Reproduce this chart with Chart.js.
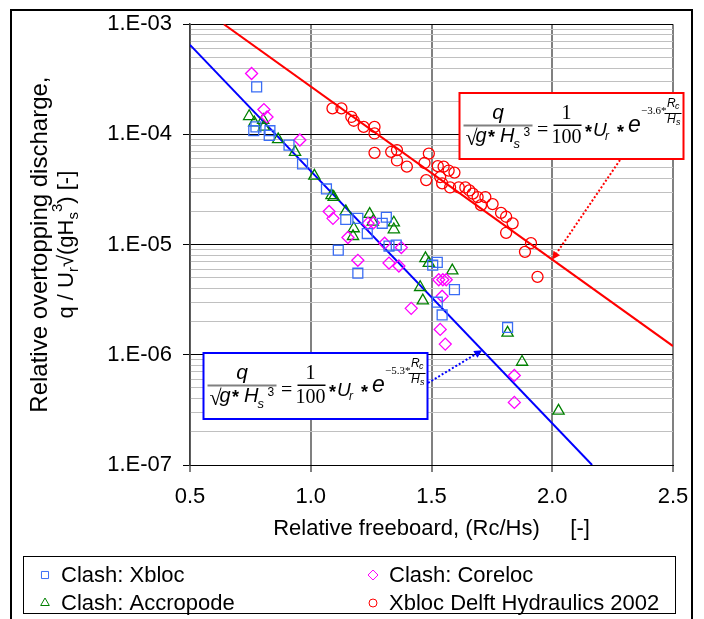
<!DOCTYPE html>
<html lang="en">
<head>
<meta charset="UTF-8" />
<title>Relative overtopping discharge</title>
<script src="https://cdn.jsdelivr.net/npm/chart.js@4.4.1/dist/chart.umd.min.js"></script>
<style>
  body { margin: 0; background: #fff; }
  #wrap { width: 704px; height: 619px; }
</style>
</head>
<body>
<div id="wrap"><canvas id="chart" width="704" height="619"></canvas></div>
<script>
// axis ticks
const xTicks = [0.5, 1.0, 1.5, 2.0, 2.5];
const xTickLabels = ['0.5', '1.0', '1.5', '2.0', '2.5'];
const yTicks = [1e-7, 1e-6, 1e-5, 1e-4, 1e-3];
const yTickLabels = ['1.E-07', '1.E-06', '1.E-05', '1.E-04', '1.E-03'];

// Clash: Xbloc
const xblocX = [0.776, 0.773, 0.764, 0.831, 0.828, 0.910, 0.966, 1.065, 1.145, 1.195, 1.313, 1.296, 1.234, 1.114, 1.195, 1.324, 1.354, 1.524, 1.505, 1.595, 1.524, 1.544, 1.815];
const xblocY = [2.70e-4, 1.17e-4, 1.08e-4, 1.08e-4, 9.8e-5, 8.0e-5, 5.4e-5, 3.2e-5, 1.69e-5, 1.73e-5, 1.77e-5, 1.56e-5, 1.26e-5, 8.9e-6, 5.5e-6, 9.7e-6, 9.9e-6, 6.9e-6, 6.5e-6, 3.9e-6, 3.0e-6, 2.3e-6, 1.77e-6];

// Clash: Coreloc
const corelocX = [0.755, 0.806, 0.819, 0.955, 1.076, 1.092, 1.237, 1.260, 1.154, 1.195, 1.306, 1.375, 1.324, 1.365, 1.416, 1.530, 1.547, 1.561, 1.544, 1.536, 1.557, 1.843, 1.843];
const corelocY = [3.57e-4, 1.68e-4, 1.44e-4, 8.9e-5, 2.0e-5, 1.73e-5, 1.56e-5, 1.58e-5, 1.16e-5, 7.2e-6, 1.03e-5, 9.4e-6, 6.8e-6, 6.4e-6, 2.64e-6, 4.8e-6, 4.8e-6, 4.8e-6, 3.4e-6, 1.70e-6, 1.25e-6, 6.5e-7, 3.7e-7];

// Clash: Accropode
const accroX = [0.745, 0.766, 0.803, 0.806, 0.865, 0.935, 1.015, 1.086, 1.095, 1.145, 1.244, 1.257, 1.344, 1.344, 1.178, 1.175, 1.475, 1.489, 1.586, 1.453, 1.464, 1.815, 1.875, 2.026];
const accroY = [1.46e-4, 1.28e-4, 1.35e-4, 1.17e-4, 9.0e-5, 6.9e-5, 4.2e-5, 2.8e-5, 2.7e-5, 2.0e-5, 1.89e-5, 1.61e-5, 1.58e-5, 1.37e-5, 1.40e-5, 1.19e-5, 7.5e-6, 6.8e-6, 5.8e-6, 4.1e-6, 3.1e-6, 1.58e-6, 8.6e-7, 3.1e-7];

// Xbloc Delft Hydraulics 2002
const delftX = [1.090, 1.127, 1.168, 1.178, 1.219, 1.264, 1.264, 1.264, 1.333, 1.357, 1.357, 1.398, 1.489, 1.471, 1.478, 1.526, 1.550, 1.571, 1.595, 1.536, 1.544, 1.577, 1.613, 1.640, 1.657, 1.671, 1.691, 1.723, 1.753, 1.705, 1.788, 1.809, 1.836, 1.809, 1.912, 1.887, 1.939];
const delftY = [1.72e-4, 1.72e-4, 1.44e-4, 1.33e-4, 1.17e-4, 1.17e-4, 1.02e-4, 6.8e-5, 6.95e-5, 7.2e-5, 5.8e-5, 5.1e-5, 6.7e-5, 5.5e-5, 3.85e-5, 5.15e-5, 5.1e-5, 4.7e-5, 4.5e-5, 4.1e-5, 3.6e-5, 3.3e-5, 3.3e-5, 3.3e-5, 3.1e-5, 2.9e-5, 2.7e-5, 2.7e-5, 2.33e-5, 2.28e-5, 1.94e-5, 1.79e-5, 1.56e-5, 1.28e-5, 1.03e-5, 8.6e-6, 5.1e-6];

// fitted lines (end points)
const redLineX = [0.64, 2.5];
const redLineY = [1.0e-3, 1.2e-6];
const blueLineX = [0.5, 2.165];
const blueLineY = [6.5e-4, 1.0e-7];

const SANS = "'Liberation Sans', Arial, sans-serif";
const SERIF = "'Liberation Serif', 'Times New Roman', serif";
Chart.defaults.font.family = SANS;
Chart.defaults.color = '#000';

const pts = (xs, ys) => xs.map((x, i) => ({ x: x, y: ys[i] }));
const isDecade = v => Math.abs(Math.log10(v) - Math.round(Math.log10(v))) < 1e-6;

function onLine(xs, ys, x) {
  const t = (x - xs[0]) / (xs[1] - xs[0]);
  const a = Math.log10(ys[0]), b = Math.log10(ys[1]);
  return Math.pow(10, a + t * (b - a));
}

function txt(ctx, s, x, y, font, align) {
  ctx.font = font;
  ctx.textAlign = align || 'left';
  ctx.textBaseline = 'alphabetic';
  ctx.fillText(s, x, y);
}

// q / sqrt(g*Hs^3) = 1/100 * Ur * e^(k*Rc/Hs)
function drawFormula(ctx, bx, by, color, expo) {
  const it = s => 'italic ' + s + 'px ' + SANS;
  const rm = s => s + 'px ' + SERIF;
  const star = 'bold 18px ' + SANS;
  ctx.save();
  ctx.fillStyle = '#fff';
  ctx.fillRect(bx, by, 224, 66);
  ctx.strokeStyle = color;
  ctx.lineWidth = 2;
  ctx.strokeRect(bx, by, 224, 66);
  ctx.fillStyle = '#000';
  txt(ctx, 'q', bx + 38.5, by + 26, it(21), 'center');
  ctx.fillStyle = '#808080';
  ctx.fillRect(bx + 4, by + 31.5, 69, 2);
  ctx.fillStyle = '#000';
  txt(ctx, '√', bx + 6, by + 52, rm(22));
  txt(ctx, 'g', bx + 16, by + 48.5, it(20));
  txt(ctx, '*', bx + 28.5, by + 50, star);
  txt(ctx, 'H', bx + 40.5, by + 48.5, it(20));
  txt(ctx, 's', bx + 54, by + 55, it(13));
  txt(ctx, '3', bx + 64, by + 43, '12px ' + SANS);
  txt(ctx, '=', bx + 77.5, by + 43, rm(20));
  txt(ctx, '1', bx + 107, by + 25.5, rm(20), 'center');
  ctx.fillRect(bx + 94, by + 31.5, 28, 1.5);
  txt(ctx, '100', bx + 107, by + 50, rm(20), 'center');
  txt(ctx, '*', bx + 125.5, by + 45, star);
  txt(ctx, 'U', bx + 133.5, by + 42.5, it(19));
  txt(ctx, 'r', bx + 145.5, by + 47, it(12));
  txt(ctx, '*', bx + 157.5, by + 45, star);
  txt(ctx, 'e', bx + 168.5, by + 38.5, it(23));
  txt(ctx, expo, bx + 181.5, by + 20.5, rm(11));
  txt(ctx, 'R', bx + 207.5, by + 13.5, it(12));
  txt(ctx, 'c', bx + 215.5, by + 15.5, it(9));
  ctx.fillRect(bx + 205, by + 20, 17, 1);
  txt(ctx, 'H', bx + 207.5, by + 30, it(12));
  txt(ctx, 's', bx + 216.5, by + 32, it(9));
  ctx.restore();
}

function dottedArrow(ctx, x0, y0, x1, y1, color) {
  const a = Math.atan2(y1 - y0, x1 - x0);
  const hx = x1 - 8 * Math.cos(a), hy = y1 - 8 * Math.sin(a);
  ctx.save();
  ctx.strokeStyle = color;
  ctx.fillStyle = color;
  ctx.lineWidth = 2;
  ctx.setLineDash([2, 2]);
  ctx.beginPath();
  ctx.moveTo(x0, y0);
  ctx.lineTo(hx, hy);
  ctx.stroke();
  ctx.setLineDash([]);
  ctx.beginPath();
  ctx.moveTo(x1, y1);
  ctx.lineTo(hx + 4 * Math.sin(a), hy - 4 * Math.cos(a));
  ctx.lineTo(hx - 4 * Math.sin(a), hy + 4 * Math.cos(a));
  ctx.closePath();
  ctx.fill();
  ctx.restore();
}

function drawRuns(ctx, runs) {
  let w = 0;
  runs.forEach(r => { ctx.font = r.font; r.w = ctx.measureText(r.t).width; w += r.w; });
  let x = -w / 2;
  runs.forEach(r => { ctx.font = r.font; ctx.fillText(r.t, x, r.dy || 0); x += r.w; });
}

const extras = {
  id: 'extras',
  afterDraw(chart) {
    const ctx = chart.ctx;
    const xs = chart.scales.x, ys = chart.scales.y;

    // outer frame
    ctx.save();
    ctx.strokeStyle = '#000';
    ctx.lineWidth = 2;
    ctx.strokeRect(11, 10, 681, 640);
    ctx.restore();

    // y axis title (two lines, with sub/superscripts)
    const big = '24px ' + SANS, mid = '22px ' + SANS, small = '15px ' + SANS;
    ctx.save();
    ctx.fillStyle = '#000';
    ctx.textAlign = 'left';
    ctx.textBaseline = 'middle';
    const cy = (chart.chartArea.top + chart.chartArea.bottom) / 2;
    ctx.translate(40, cy);
    ctx.rotate(-Math.PI / 2);
    drawRuns(ctx, [{ t: 'Relative overtopping discharge,', font: big }]);
    ctx.translate(0, 27);
    drawRuns(ctx, [
      { t: 'q / U', font: mid },
      { t: 'r', font: small, dy: 7 },
      { t: '√(gH', font: mid },
      { t: 's', font: small, dy: 7 },
      { t: '3', font: small, dy: -9 },
      { t: ') [-]', font: mid }
    ]);
    ctx.restore();

    // arrows from the formula boxes to the lines
    const rx = 2.0, bxv = 1.71;
    dottedArrow(ctx, 620, 160, xs.getPixelForValue(rx), ys.getPixelForValue(onLine(redLineX, redLineY, rx)), '#ff0000');
    dottedArrow(ctx, 428, 383, xs.getPixelForValue(bxv), ys.getPixelForValue(onLine(blueLineX, blueLineY, bxv)), '#0000ff');

    drawFormula(ctx, 459.5, 93, '#ff0000', '−3.6*');
    drawFormula(ctx, 203.5, 353, '#0000ff', '−5.3*');

    // legend box
    ctx.save();
    ctx.strokeStyle = '#000';
    ctx.lineWidth = 1;
    ctx.strokeRect(23.5, 556.5, 652, 57);
    const spots = [[45, 575], [373, 575], [45, 603], [373, 603]];
    [0, 1, 2, 3].forEach((di, k) => {
      const ds = chart.data.datasets[di];
      const [px, py] = spots[k];
      ctx.strokeStyle = ds.pointBorderColor;
      ctx.fillStyle = 'rgba(0,0,0,0)';
      ctx.lineWidth = 1;
      Chart.helpers.drawPoint(ctx, { pointStyle: ds.pointStyle, radius: ds.legendRadius, borderWidth: 1, rotation: 0 }, px, py);
      ctx.fillStyle = '#000';
      ctx.font = '22px ' + SANS;
      ctx.textAlign = 'left';
      ctx.textBaseline = 'middle';
      ctx.fillText(ds.label, px + 16, py + 1);
    });
    ctx.restore();
  }
};

const scatterSet = (label, xsArr, ysArr, style, color, r, lr) => ({
  label: label,
  data: pts(xsArr, ysArr),
  showLine: false,
  pointStyle: style,
  pointRadius: r,
  pointBorderColor: color,
  pointBackgroundColor: 'rgba(0,0,0,0)',
  pointBorderWidth: 1.3,
  legendRadius: lr
});

new Chart(document.getElementById('chart'), {
  type: 'scatter',
  data: {
    datasets: [
      scatterSet('Clash: Xbloc', xblocX, xblocY, 'rect', '#3a6df5', 7, 5),
      scatterSet('Clash: Coreloc', corelocX, corelocY, 'rectRot', '#ff00ff', 6, 5),
      scatterSet('Clash: Accropode', accroX, accroY, 'triangle', '#008000', 6.5, 5),
      scatterSet('Xbloc Delft Hydraulics 2002', delftX, delftY, 'circle', '#ff0000', 5.5, 4),
      {
        label: 'fit red', data: pts(redLineX, redLineY), showLine: true,
        borderColor: '#ff0000', borderWidth: 2, pointRadius: 0
      },
      {
        label: 'fit blue', data: pts(blueLineX, blueLineY), showLine: true,
        borderColor: '#0000ff', borderWidth: 2, pointRadius: 0
      }
    ]
  },
  options: {
    responsive: false,
    animation: false,
    devicePixelRatio: 1,
    layout: { padding: { left: 0, top: 24, right: 31, bottom: 74 } },
    plugins: { legend: { display: false }, tooltip: { enabled: false } },
    scales: {
      x: {
        type: 'linear',
        min: 0.5,
        max: 2.5,
        afterBuildTicks: s => { s.ticks = xTicks.map(v => ({ value: v })); },
        afterFit: s => { s.height = 80; },
        ticks: {
          autoSkip: false,
          maxRotation: 0,
          padding: 12,
          font: { size: 22 },
          color: '#000',
          callback: (v) => xTickLabels[xTicks.findIndex(t => Math.abs(t - v) < 1e-9)]
        },
        grid: { color: '#808080', lineWidth: 2, tickLength: 7, tickColor: '#000', tickWidth: 1 },
        border: { color: '#000', width: 1 },
        title: {
          display: true,
          text: 'Relative freeboard, (Rc/Hs)     [-]',
          font: { size: 22 },
          color: '#000',
          padding: { top: 0, bottom: 3 }
        }
      },
      y: {
        type: 'logarithmic',
        min: 1e-7,
        max: 1e-3,
        afterBuildTicks: s => {
          const t = [];
          yTicks.slice(0, -1).forEach(d => {
            for (let k = 1; k < 10; k++) t.push({ value: d * k });
          });
          t.push({ value: yTicks[yTicks.length - 1] });
          s.ticks = t;
        },
        afterFit: s => { s.width = 190; },
        ticks: {
          autoSkip: false,
          padding: 11,
          font: { size: 22 },
          color: '#000',
          callback: (v) => {
            const i = yTicks.findIndex(t => Math.abs(t / v - 1) < 1e-6);
            return i >= 0 ? yTickLabels[i] : '';
          }
        },
        grid: {
          color: c => isDecade(c.tick.value) ? '#000' : '#c0c0c0',
          lineWidth: 1,
          tickLength: 7,
          tickColor: c => isDecade(c.tick.value) ? '#000' : 'rgba(0,0,0,0)',
          tickWidth: 1
        },
        border: { color: '#404040', width: 1.5 }
      }
    }
  },
  plugins: [extras]
});
</script>
</body>
</html>
